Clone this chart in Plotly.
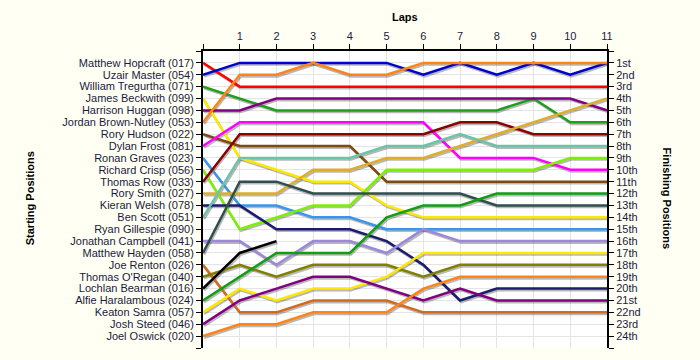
import plotly.graph_objects as go

laps = list(range(0, 12))
lap_labels = ["", "1", "2", "3", "4", "5", "6", "7", "8", "9", "10", "11"]

drivers = [
    "Matthew Hopcraft (017)", "Uzair Master (054)", "William Tregurtha (071)",
    "James Beckwith (099)", "Harrison Huggan (098)", "Jordan Brown-Nutley (053)",
    "Rory Hudson (022)", "Dylan Frost (081)", "Ronan Graves (023)",
    "Richard Crisp (056)", "Thomas Row (033)", "Rory Smith (027)",
    "Kieran Welsh (078)", "Ben Scott (051)", "Ryan Gillespie (090)",
    "Jonathan Campbell (041)", "Matthew Hayden (058)", "Joe Renton (026)",
    "Thomas O'Regan (040)", "Lochlan Bearman (016)", "Alfie Haralambous (024)",
    "Keaton Samra (057)", "Josh Steed (046)", "Joel Oswick (020)",
]

finish_labels = ["1st", "2nd", "3rd", "4th", "5th", "6th", "7th", "8th", "9th",
                 "10th", "11th", "12th", "13th", "14th", "15th", "16th", "17th",
                 "18th", "19th", "20th", "21st", "22nd", "23rd", "24th"]

# positions per lap (lap 0 = starting grid)
hopcraft = [1, 3, 3, 3, 3, 3, 3, 3, 3, 3, 3, 3]
master = [2, 1, 1, 1, 1, 1, 2, 1, 2, 1, 2, 1]
tregurtha = [3, 4, 5, 5, 5, 5, 5, 5, 5, 4, 6, 6]
beckwith = [4, 9, 10, 11, 11, 13, 14, 14, 14, 14, 14, 14]
huggan = [5, 5, 4, 4, 4, 4, 4, 4, 4, 4, 4, 5]
brown_nutley = [6, 2, 2, 1, 2, 2, 1, 1, 1, 1, 1, 1]
hudson = [7, 8, 8, 8, 8, 11, 11, 11, 11, 11, 11, 11]
frost = [8, 6, 6, 6, 6, 6, 6, 9, 9, 9, 10, 10]
graves = [9, 13, 13, 14, 14, 15, 15, 15, 15, 15, 15, 15]
crisp = [10, 15, 14, 13, 13, 10, 10, 10, 10, 10, 9, 9]
row = [11, 7, 7, 7, 7, 7, 7, 6, 6, 7, 7, 7]
smith = [12, 12, 12, 10, 10, 9, 9, 8, 7, 6, 5, 4]
welsh = [13, 13, 15, 15, 15, 16, 18, 21, 20, 20, 20, 20]
scott = [14, 9, 9, 9, 9, 8, 8, 7, 8, 8, 8, 8]
gillespie = []
campbell = [16, 16, 18, 16, 16, 17, 15, 16, 16, 16, 16, 16]
hayden = [17, 11, 11, 12, 12, 12, 12, 12, 13, 13, 13, 13]
renton = [18, 22, 22, 21, 21, 21, 22, 22, 22, 22, 22, 22]
oregan = [19, 18, 19, 18, 18, 18, 19, 18, 18, 18, 18, 18]
bearman = [20, 17, 16]
haralambous = [21, 19, 17, 17, 17, 14, 13, 13, 12, 12, 12, 12]
samra = [22, 20, 21, 20, 20, 19, 17, 17, 17, 17, 17, 17]
steed = [23, 21, 20, 19, 19, 20, 21, 20, 21, 21, 21, 21]
oswick = [24, 23, 23, 22, 22, 22, 20, 19, 19, 19, 19, 19]

series = [hopcraft, master, tregurtha, beckwith, huggan, brown_nutley, hudson,
          frost, graves, crisp, row, smith, welsh, scott, gillespie, campbell,
          hayden, renton, oregan, bearman, haralambous, samra, steed, oswick]

colors = ["#FF0000", "#0000CC", "#1E9E1E", "#FFE800", "#800080", "#FF8418",
          "#7F4A10", "#FF00FF", "#3A96EC", "#7CF000", "#8B0000", "#E0AC2C",
          "#1C1C6C", "#6CC4A8", "#808080", "#9B87DB", "#2F4F4F", "#D2691E",
          "#808000", "#000000", "#129E12", "#FFE800", "#800080", "#FF8418"]

fig = go.Figure()

# shadow offsets (in data units, ~1.5px)
sdx, sdy = 0.03, 0.14

for vals in series:
    if not vals:
        continue
    fig.add_trace(go.Scatter(
        x=[laps[i] + sdx for i in range(len(vals))],
        y=[v + sdy for v in vals],
        mode="lines", line=dict(color="rgba(0,0,0,0.28)", width=2.5),
        hoverinfo="skip", showlegend=False))

for name, vals, col in zip(drivers, series, colors):
    if not vals:
        continue
    fig.add_trace(go.Scatter(
        x=laps[:len(vals)], y=vals, name=name,
        mode="lines", line=dict(color=col, width=2.5),
        showlegend=False))

# invisible trace to anchor the right axis
fig.add_trace(go.Scatter(x=[0], y=[1], yaxis="y2", mode="markers",
                         marker=dict(opacity=0), hoverinfo="skip",
                         showlegend=False))

tick_font = dict(family="Liberation Sans, Arial, sans-serif", size=11,
                 color="#1a1a40")
title_font = dict(family="Liberation Sans, Arial, sans-serif", size=11,
                  color="#000000")

pos_vals = list(range(0, 26))

fig.update_layout(
    width=700, height=360,
    margin=dict(l=203, r=93, t=51, b=12),
    paper_bgcolor="#FFFFF4",
    plot_bgcolor="#FFFFFF",
    showlegend=False,
    xaxis=dict(
        side="top", range=[0, 11], tickvals=laps, ticktext=lap_labels,
        showgrid=True, gridcolor="#E4E4E4", gridwidth=1, zeroline=False,
        showline=True, linecolor="#000000", linewidth=2,
        ticks="outside", ticklen=5, tickcolor="#000000", tickwidth=1,
        tickfont=tick_font,
    ),
    yaxis=dict(
        range=[25, 0], tickvals=pos_vals,
        ticktext=[""] + drivers + [""],
        showgrid=True, gridcolor="#E4E4E4", gridwidth=1, zeroline=False,
        showline=True, linecolor="#000000", linewidth=2,
        ticks="outside", ticklen=5, tickcolor="#000000", tickwidth=1,
        tickfont=tick_font,
    ),
    yaxis2=dict(
        overlaying="y", side="right", range=[25, 0], tickvals=pos_vals,
        ticktext=[""] + finish_labels + [""],
        showgrid=False, zeroline=False,
        showline=True, linecolor="#000000", linewidth=2,
        ticks="outside", ticklen=5, tickcolor="#000000", tickwidth=1,
        tickfont=tick_font,
    ),
    annotations=[
        dict(text="<b>Laps</b>", xref="paper", yref="paper", x=0.5, y=1.113,
             showarrow=False, font=title_font, xanchor="center", yanchor="middle"),
        dict(text="<b>Starting Positions</b>", xref="paper", yref="paper",
             x=-0.4276, y=0.505, textangle=-90, showarrow=False, font=title_font,
             xanchor="center", yanchor="middle"),
        dict(text="<b>Finishing Positions</b>", xref="paper", yref="paper",
             x=1.1495, y=0.505, textangle=90, showarrow=False, font=title_font,
             xanchor="center", yanchor="middle"),
    ],
)

fig.write_html(
    "out.html",
    config={"displayModeBar": False},
    post_script="document.body.style.margin='0px';"
                "document.body.style.background='#FFFFF4';",
)
